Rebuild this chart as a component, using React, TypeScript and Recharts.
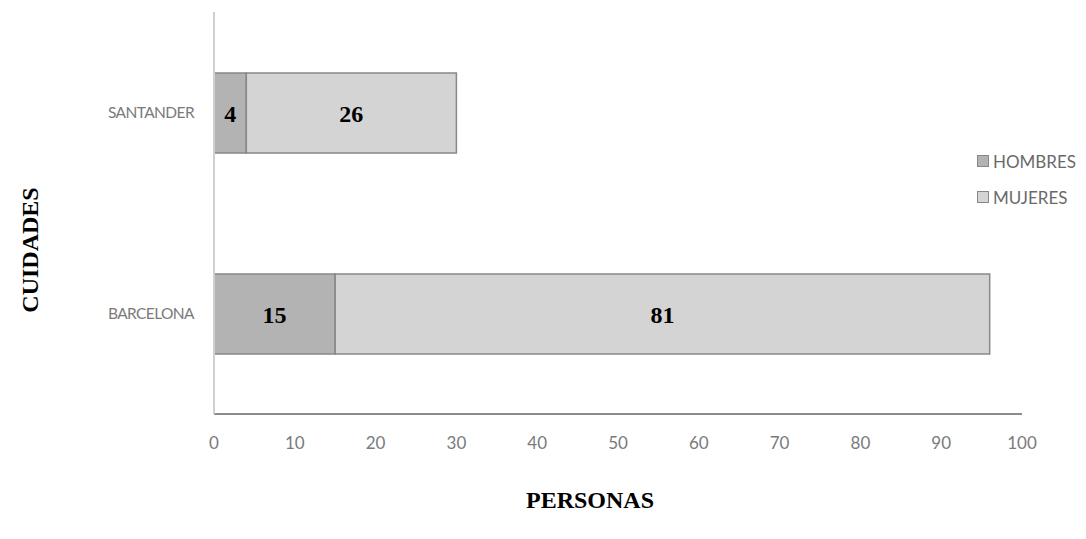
import { BarChart, Bar, XAxis, YAxis, LabelList } from 'recharts';

const cities = ['SANTANDER', 'BARCELONA'];
const hombres = [4, 15];
const mujeres = [26, 81];
const xTicks = [0, 10, 20, 30, 40, 50, 60, 70, 80, 90, 100];
const legendItems = [
  { label: 'HOMBRES', color: '#b3b3b3' },
  { label: 'MUJERES', color: '#d4d4d4' },
];

const data = cities.map((name, i) => ({ name, hombres: hombres[i], mujeres: mujeres[i] }));

const labelFont = "'Liberation Serif', 'Times New Roman', serif";
const tickFont = "Lato, 'Open Sans', sans-serif";

const titleStyle = {
  position: 'absolute' as const,
  fontFamily: labelFont,
  fontWeight: 'bold' as const,
  fontSize: 24,
  color: '#000',
  whiteSpace: 'nowrap' as const,
};

const App = () => (
  <div style={{ position: 'absolute', left: 0, top: 0, width: 1086, height: 539, background: '#fff' }}>
    <BarChart
      width={1086}
      height={539}
      data={data}
      layout="vertical"
      margin={{ top: 12, right: 64, left: 0, bottom: 0 }}
    >
      <XAxis
        type="number"
        domain={[0, 100]}
        ticks={xTicks}
        tickLine={false}
        axisLine={{ stroke: '#8c8c8c', strokeWidth: 2 }}
        tick={{ fontSize: 17, fill: '#7a7a7a', fontFamily: tickFont }}
        tickMargin={17}
        height={125}
      />
      <YAxis
        type="category"
        dataKey="name"
        width={214}
        tickLine={false}
        axisLine={{ stroke: '#d0d0d0', strokeWidth: 2 }}
        tick={{ fontSize: 15.5, fill: '#7a7a7a', fontFamily: tickFont, letterSpacing: -0.6 }}
        tickMargin={14}
      />
      <Bar dataKey="hombres" stackId="a" fill="#b3b3b3" stroke="#888" strokeWidth={1.5} barSize={80} isAnimationActive={false}>
        <LabelList dataKey="hombres" position="center" fill="#000" fontSize={24} fontWeight="bold" fontFamily={labelFont} />
      </Bar>
      <Bar dataKey="mujeres" stackId="a" fill="#d4d4d4" stroke="#888" strokeWidth={1.5} barSize={80} isAnimationActive={false}>
        <LabelList dataKey="mujeres" position="center" fill="#000" fontSize={24} fontWeight="bold" fontFamily={labelFont} />
      </Bar>
    </BarChart>
    <div style={{ position: 'absolute', left: 977, top: 143, fontFamily: tickFont, fontSize: 17, color: '#6a6a6a' }}>
      {legendItems.map((item) => (
        <div key={item.label} style={{ display: 'flex', alignItems: 'center', height: 36 }}>
          <span
            style={{
              width: 10,
              height: 10,
              background: item.color,
              border: '1.5px solid #888',
              marginRight: 4,
              display: 'inline-block',
            }}
          />
          {item.label}
        </div>
      ))}
    </div>
    <div style={{ ...titleStyle, left: 30, top: 250, transform: 'translate(-50%, -50%) rotate(-90deg)' }}>CUIDADES</div>
    <div style={{ ...titleStyle, left: 590, top: 500, transform: 'translate(-50%, -50%)' }}>PERSONAS</div>
  </div>
);

export default App;
